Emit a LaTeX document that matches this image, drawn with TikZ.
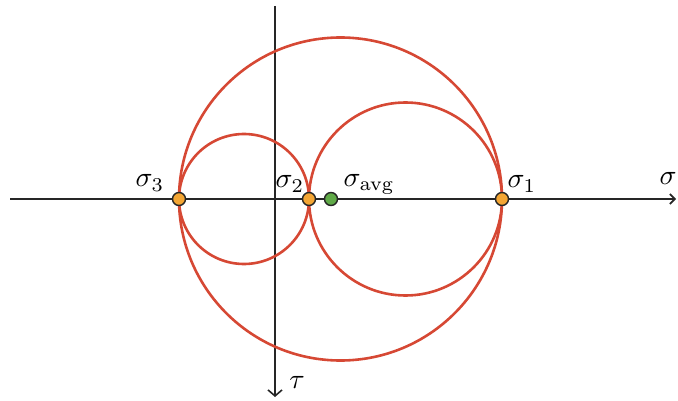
\documentclass[tikz,border=0pt]{standalone}
\usetikzlibrary{arrows.meta}
\definecolor{mohr}{RGB}{214,72,52}
\definecolor{pt}{RGB}{244,166,52}
\definecolor{avg}{RGB}{96,170,72}
\begin{document}
\begin{tikzpicture}[x=1pt,y=-1pt,
  axis/.style={line width=1.6pt,black!85},
  circ/.style={draw=mohr,line width=2.6pt},
  dot/.style={circle,draw=black!85,line width=1.4pt,minimum size=13pt,inner sep=0pt},
  lab/.style={scale=2.8,inner sep=0pt}]
\useasboundingbox (0,0) rectangle (678,401);
\coordinate (xl) at (10,199);
\coordinate (xr) at (676,199);
\coordinate (yt) at (275,6);
\coordinate (yb) at (275,397);
\draw[axis,-{Straight Barb[length=5pt,width=10pt]}] (xl) -- (xr);
\draw[axis,-{Straight Barb[length=6pt,width=14pt]}] (yt) -- (yb);
\draw[circ] (340.5,199) circle[radius=161.5];
\draw[circ] (244,199) circle[radius=65];
\draw[circ] (405.5,199) circle[radius=96.5];
\node[dot,fill=pt] (s3) at (179,199) {};
\node[dot,fill=pt] (s2) at (309,199) {};
\node[dot,fill=avg] (sa) at (331,199) {};
\node[dot,fill=pt] (s1) at (502,199) {};
\node[lab] (l3) at (150,183) {$\sigma_3$};
\node[lab] (l2) at (290,184) {$\sigma_2$};
\node[lab,anchor=west] (la) at (343,184) {$\sigma_{\mathrm{avg}}$};
\node[lab] (l1) at (522,184) {$\sigma_1$};
\node[lab,anchor=west] (ls) at (659,178) {$\sigma$};
\node[lab] (lt) at (297,382) {$\tau$};
\end{tikzpicture}
\end{document}
